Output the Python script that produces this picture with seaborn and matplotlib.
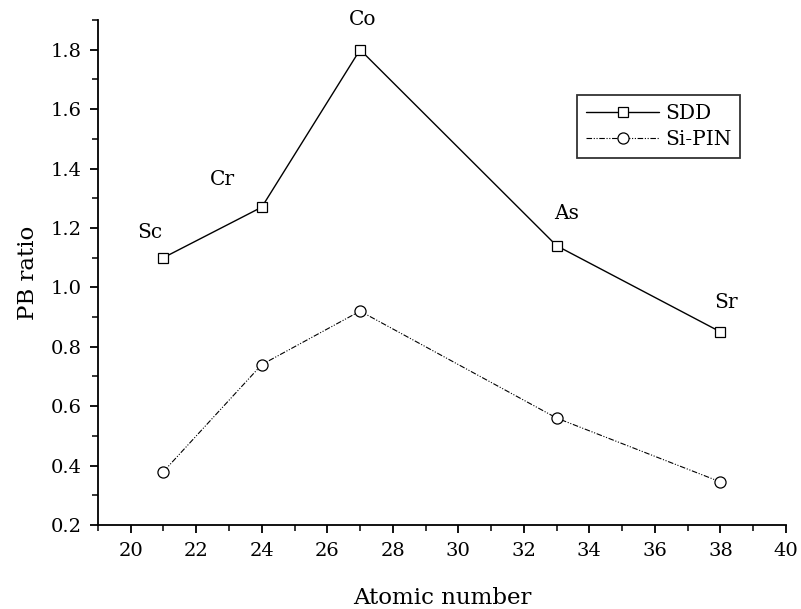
import numpy as np
import pandas as pd
import matplotlib
matplotlib.use('Agg')
import matplotlib.pyplot as plt
import seaborn as sns

# data
atomic_number = [21, 24, 27, 33, 38]
elements = ['Sc', 'Cr', 'Co', 'As', 'Sr']
sdd_ratio = [1.10, 1.27, 1.80, 1.14, 0.85]
sipin_ratio = [0.38, 0.74, 0.92, 0.56, 0.345]
# label offsets (points) for the element names
label_offsets = [(-10, 18), (-28, 20), (2, 22), (7, 23), (4, 21)]

sns.set_style('ticks')
plt.rcParams['font.family'] = ['DejaVu Serif']
plt.rcParams['text.color'] = 'black'
plt.rcParams['axes.labelcolor'] = 'black'

df = pd.DataFrame({'Z': atomic_number, 'SDD': sdd_ratio, 'Si-PIN': sipin_ratio})

fig = plt.figure(figsize=(8.01, 6.09), dpi=100)
ax = fig.add_axes([0.1223, 0.1379, 0.859, 0.8293])

sns.lineplot(data=df, x='Z', y='SDD', ax=ax, color='black', linewidth=1.0,
             marker='s', markersize=7, markerfacecolor='white',
             markeredgecolor='black', markeredgewidth=0.9, label='SDD')
sns.lineplot(data=df, x='Z', y='Si-PIN', ax=ax, color='black', linewidth=0.8,
             linestyle=(0, (5, 1.5, 1, 1.5, 1, 1.5)),
             marker='o', markersize=8, markerfacecolor='white',
             markeredgecolor='black', markeredgewidth=0.9, label='Si-PIN')

for z, v, name, off in zip(atomic_number, sdd_ratio, elements, label_offsets):
    ax.annotate(name, (z, v), xytext=off, textcoords='offset points',
                ha='center', va='center', fontsize=14.5, color='black')

ax.set_xlim(19, 40)
ax.set_ylim(0.2, 1.9)
ax.set_xticks(np.arange(20, 41, 2))
ax.set_xticks(np.arange(19, 41, 1), minor=True)
ax.set_yticks(np.arange(0.2, 1.81, 0.2))
ax.set_yticks(np.arange(0.3, 1.91, 0.2), minor=True)
ax.yaxis.set_major_formatter(matplotlib.ticker.FormatStrFormatter('%.1f'))

sns.despine(ax=ax)
for s in ['left', 'bottom']:
    ax.spines[s].set_linewidth(1.3)
    ax.spines[s].set_color('black')
ax.tick_params(which='major', direction='out', length=6, width=1.3,
               labelsize=14, colors='black', pad=6)
ax.tick_params(which='minor', direction='out', length=4, width=1.1, colors='black')

ax.set_xlabel('Atomic number', fontsize=16.5, labelpad=20)
ax.set_ylabel('PB ratio', fontsize=16.5, labelpad=8)

leg = ax.legend(loc='upper right', bbox_to_anchor=(0.937, 0.861),
                bbox_transform=fig.transFigure, fontsize=14.5, frameon=True,
                fancybox=False, edgecolor='black', handlelength=3.6,
                borderpad=0.45, labelspacing=0.35, handletextpad=0.3)
leg.get_frame().set_linewidth(1.3)
for t in leg.get_texts():
    t.set_color('black')

fig.savefig('out.png', dpi=100)
